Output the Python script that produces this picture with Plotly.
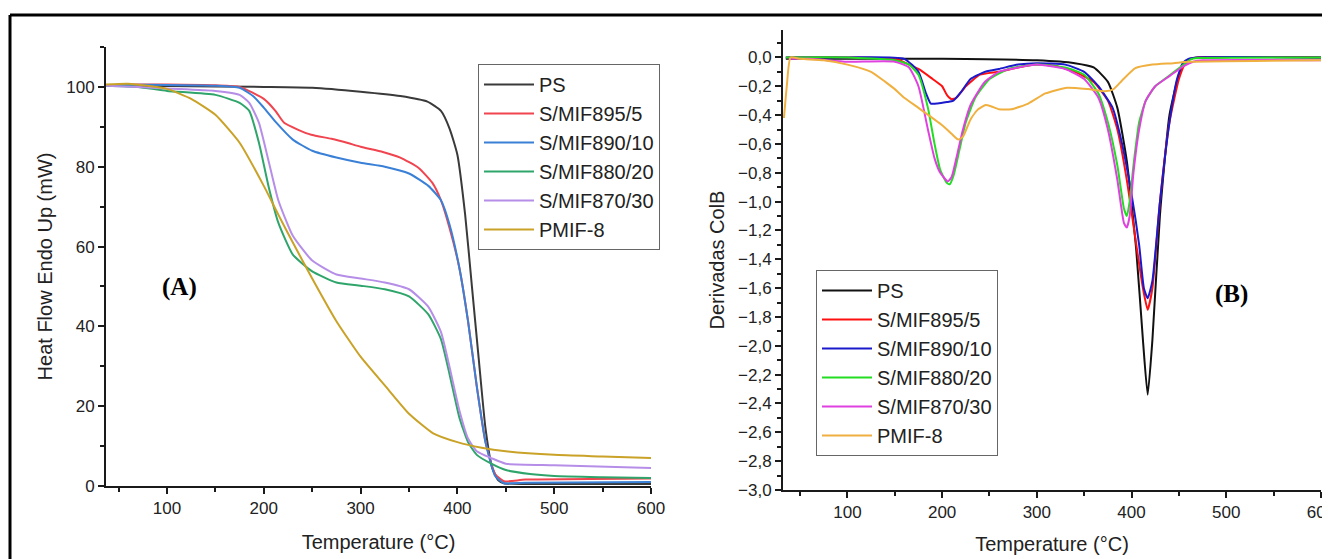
import plotly.graph_objects as go
from plotly.subplots import make_subplots

# ---- (A) TGA curves: temperature (°C) / heat flow (mW) ----
A_PS_T = [37, 100, 200, 250, 300, 341, 369, 383, 392, 400, 408, 415, 422, 429, 436, 442, 448, 470, 600]
A_PS = [100.2, 100.2, 100.0, 99.8, 98.8, 97.7, 96.3, 94.0, 89.5, 83.0, 68.0, 50.0, 32.0, 14.5, 4.5, 1.5, 0.7, 0.5, 0.5]

A_895_T = [37, 60, 100, 150, 175, 200, 212, 221, 235, 249, 270, 286, 300, 323, 341, 360, 374, 383, 392, 402, 411, 420, 429, 439, 448, 470, 600]
A_895 = [100.3, 100.6, 100.6, 100.4, 100.0, 97.0, 94.0, 91.0, 89.3, 88.0, 87.0, 86.0, 85.0, 83.7, 82.3, 79.7, 76.0, 71.6, 64.5, 54.7, 41.3, 25.0, 11.0, 3.0, 1.2, 1.6, 1.9]

A_890_T = [37, 60, 100, 150, 175, 190, 200, 212, 230, 250, 275, 300, 325, 350, 370, 383, 392, 402, 411, 420, 429, 439, 448, 470, 600]
A_890 = [100.2, 100.5, 100.5, 100.3, 99.8, 97.5, 94.8, 91.3, 86.8, 84.0, 82.3, 81.0, 80.0, 78.3, 75.2, 71.6, 65.4, 54.7, 41.3, 25.0, 11.0, 2.5, 0.7, 0.8, 1.0]

A_880_T = [37, 70, 100, 150, 175, 185, 195, 205, 215, 230, 250, 275, 300, 325, 350, 370, 383, 392, 402, 411, 420, 435, 450, 475, 500, 550, 600]
A_880 = [100.3, 100.0, 99.0, 98.0, 96.0, 94.0, 86.0, 75.0, 66.0, 58.0, 53.8, 51.0, 50.2, 49.3, 47.5, 43.0, 36.8, 27.9, 17.2, 11.0, 7.8, 5.6, 4.0, 3.0, 2.5, 2.2, 2.0]

A_870_T = [37, 70, 100, 150, 175, 185, 195, 205, 215, 230, 250, 275, 300, 325, 350, 370, 383, 392, 402, 411, 420, 435, 450, 500, 600]
A_870 = [100.3, 100.0, 99.6, 99.0, 98.0, 96.0, 91.0, 81.4, 71.6, 62.7, 56.5, 53.0, 52.0, 51.0, 49.3, 44.9, 38.6, 29.7, 19.0, 11.9, 8.7, 7.0, 5.6, 5.2, 4.5]

A_PMIF_T = [37, 60, 100, 125, 150, 175, 200, 215, 230, 250, 275, 300, 325, 350, 375, 400, 425, 450, 500, 550, 600]
A_PMIF = [100.6, 100.8, 99.5, 97.0, 93.0, 86.0, 75.2, 68.0, 61.0, 52.0, 41.3, 32.4, 25.2, 18.1, 13.2, 11.0, 9.6, 8.7, 7.8, 7.4, 7.0]

# ---- (B) derivative curves ----
B_PS_T = [35, 40, 100, 200, 300, 340, 360, 375, 385, 395, 405, 412, 417, 422, 430, 440, 450, 456, 462, 470, 600]
B_PS = [-0.01, -0.01, -0.01, -0.01, -0.02, -0.04, -0.07, -0.17, -0.35, -0.72, -1.34, -1.96, -2.34, -1.96, -1.09, -0.40, -0.12, -0.04, -0.01, 0.0, 0.0]

B_895_T = [35, 100, 150, 175, 190, 200, 205, 210, 215, 225, 240, 260, 280, 300, 320, 340, 360, 375, 385, 395, 405, 412, 417, 422, 430, 440, 450, 456, 462, 470, 600]
B_895 = [0.0, 0.0, -0.01, -0.08, -0.15, -0.20, -0.26, -0.29, -0.28, -0.20, -0.12, -0.10, -0.07, -0.05, -0.06, -0.10, -0.17, -0.30, -0.50, -0.85, -1.30, -1.60, -1.75, -1.60, -1.00, -0.45, -0.15, -0.05, -0.01, 0.0, 0.0]

B_890_T = [35, 100, 160, 175, 183, 188, 195, 205, 212, 220, 230, 245, 260, 280, 300, 330, 350, 365, 380, 390, 400, 408, 413, 417, 422, 430, 440, 448, 454, 460, 470, 600]
B_890 = [0.0, 0.0, -0.01, -0.10, -0.25, -0.32, -0.32, -0.31, -0.30, -0.24, -0.15, -0.10, -0.08, -0.05, -0.04, -0.05, -0.10, -0.20, -0.35, -0.60, -0.95, -1.30, -1.60, -1.67, -1.55, -1.00, -0.45, -0.15, -0.04, -0.01, 0.0, 0.0]

B_880_T = [35, 100, 150, 165, 175, 185, 192, 198, 205, 208, 212, 218, 225, 235, 250, 270, 300, 330, 350, 365, 375, 385, 392, 395, 398, 402, 408, 415, 425, 435, 445, 455, 462, 470, 600]
B_880 = [0.0, 0.0, -0.02, -0.05, -0.12, -0.35, -0.60, -0.78, -0.87, -0.88, -0.82, -0.65, -0.45, -0.28, -0.15, -0.08, -0.05, -0.07, -0.12, -0.25, -0.45, -0.75, -1.05, -1.10, -1.00, -0.75, -0.45, -0.30, -0.20, -0.15, -0.10, -0.05, -0.015, -0.005, 0.0]

B_870_T = [38, 60, 100, 150, 165, 175, 185, 192, 198, 206, 210, 215, 222, 230, 245, 260, 280, 300, 330, 350, 365, 375, 385, 392, 395, 398, 402, 408, 415, 425, 440, 455, 465, 475, 600]
B_870 = [-0.01, -0.01, -0.03, -0.03, -0.07, -0.20, -0.50, -0.70, -0.80, -0.86, -0.83, -0.70, -0.50, -0.33, -0.17, -0.10, -0.07, -0.05, -0.08, -0.15, -0.28, -0.50, -0.85, -1.15, -1.18, -1.10, -0.80, -0.50, -0.30, -0.20, -0.13, -0.06, -0.03, -0.02, -0.02]

B_PMIF_T = [33, 36, 40, 50, 75, 100, 125, 140, 150, 160, 175, 200, 210, 217, 222, 230, 238, 246, 252, 260, 273, 291, 309, 332, 354, 372, 381, 390, 404, 422, 444, 460, 600]
B_PMIF = [-0.42, -0.20, 0.0, -0.01, -0.02, -0.05, -0.10, -0.17, -0.22, -0.28, -0.35, -0.47, -0.53, -0.57, -0.55, -0.43, -0.36, -0.33, -0.34, -0.36, -0.36, -0.32, -0.25, -0.21, -0.22, -0.235, -0.22, -0.16, -0.075, -0.05, -0.04, -0.03, -0.02]

NAMES = ['PS', 'S/MIF895/5', 'S/MIF890/10', 'S/MIF880/20', 'S/MIF870/30', 'PMIF-8']
COLORS_A = ['#3a3a3a', '#f0444f', '#3a80d6', '#2fa56b', '#b68ee8', '#c9a227']
COLORS_B = ['#111111', '#ff1010', '#1a1acc', '#22dd22', '#e040e0', '#f0b040']

FONT = 'Liberation Sans, Arial, sans-serif'
W, H = 1330, 559
OFF = 8  # page body margin in the browser


def px(x):
    return (x - OFF) / W


def py(y):
    return (H - (y - OFF)) / H


series_a = [(A_PS_T, A_PS), (A_895_T, A_895), (A_890_T, A_890),
            (A_880_T, A_880), (A_870_T, A_870), (A_PMIF_T, A_PMIF)]
series_b = [(B_PS_T, B_PS), (B_895_T, B_895), (B_890_T, B_890),
            (B_880_T, B_880), (B_870_T, B_870), (B_PMIF_T, B_PMIF)]

fig = make_subplots(rows=1, cols=2)

for (t, v), name, color in zip(series_a, NAMES, COLORS_A):
    fig.add_trace(go.Scatter(x=t, y=v, name=name, mode='lines',
                             line=dict(color=color, width=2, shape='spline', smoothing=0.5),
                             legend='legend'), row=1, col=1)

for (t, v), name, color in zip(series_b, NAMES, COLORS_B):
    fig.add_trace(go.Scatter(x=t, y=v, name=name, mode='lines',
                             line=dict(color=color, width=2, shape='spline', smoothing=0.5),
                             legend='legend2'), row=1, col=2)

axis_common = dict(
    showline=True, linecolor='#1a1a1a', linewidth=2,
    ticks='outside', ticklen=6, tickwidth=2, tickcolor='#1a1a1a',
    showgrid=False, zeroline=False,
    tickfont=dict(family=FONT, size=17, color='#222222'),
    title_font=dict(family=FONT, size=20, color='#222222'),
)

fig.update_xaxes(axis_common, domain=[px(106), px(651)], range=[37, 600],
                 tick0=0, dtick=100,
                 minor=dict(ticks='outside', ticklen=4, tickwidth=2, dtick=50, tick0=0),
                 title_text='Temperature (°C)', title_standoff=18, row=1, col=1)
fig.update_yaxes(axis_common, domain=[py(486), py(47)], range=[0, 110],
                 tick0=0, dtick=20,
                 minor=dict(ticks='outside', ticklen=4, tickwidth=2, dtick=10, tick0=0),
                 title_text='Heat Flow Endo Up (mW)', title_standoff=8, row=1, col=1)

fig.update_xaxes(axis_common, domain=[px(783), px(1321)], range=[32, 600],
                 tick0=0, dtick=100,
                 minor=dict(ticks='outside', ticklen=4, tickwidth=2, dtick=50, tick0=0),
                 title_text='Temperature (°C)', title_standoff=16, row=1, col=2)
fig.update_yaxes(axis_common, domain=[py(490), py(30)], range=[-3.0, 0.19],
                 tick0=0, dtick=0.2, tickformat='.1f',
                 minor=dict(ticks='outside', ticklen=4, tickwidth=2, dtick=0.1, tick0=0),
                 title_text='Derivadas ColB', title_standoff=8, row=1, col=2)

legend_common = dict(
    bgcolor='white', bordercolor='#666666', borderwidth=1,
    font=dict(family=FONT, size=20, color='#222222'),
    xanchor='left', yanchor='top', tracegroupgap=0, itemwidth=50,
)

fig.update_layout(
    width=W, height=H,
    margin=dict(l=0, r=0, t=0, b=0, autoexpand=False),
    paper_bgcolor='white', plot_bgcolor='white',
    separators=',.',
    showlegend=True,
    legend=dict(legend_common, x=px(478), y=py(64)),
    legend2=dict(legend_common, x=px(816), y=py(270)),
    font=dict(family=FONT),
)

# panel letters
fig.add_annotation(x=px(160), y=py(287), xref='paper', yref='paper',
                   text='<b>(A)</b>', showarrow=False,
                   font=dict(family='Liberation Serif, Times New Roman, serif', size=25, color='black'))
fig.add_annotation(x=px(1250), y=py(294), xref='paper', yref='paper',
                   text='<b>(B)</b>', showarrow=False,
                   font=dict(family='Liberation Serif, Times New Roman, serif', size=25, color='black'))

# outer frame (top and left edges visible in the crop)
fig.add_shape(type='line', xref='paper', yref='paper',
              x0=px(10), x1=1, y0=py(15), y1=py(15),
              line=dict(color='black', width=3))
fig.add_shape(type='line', xref='paper', yref='paper',
              x0=px(10), x1=px(10), y0=0, y1=py(15),
              line=dict(color='black', width=3))

fig.write_html('out.html')
